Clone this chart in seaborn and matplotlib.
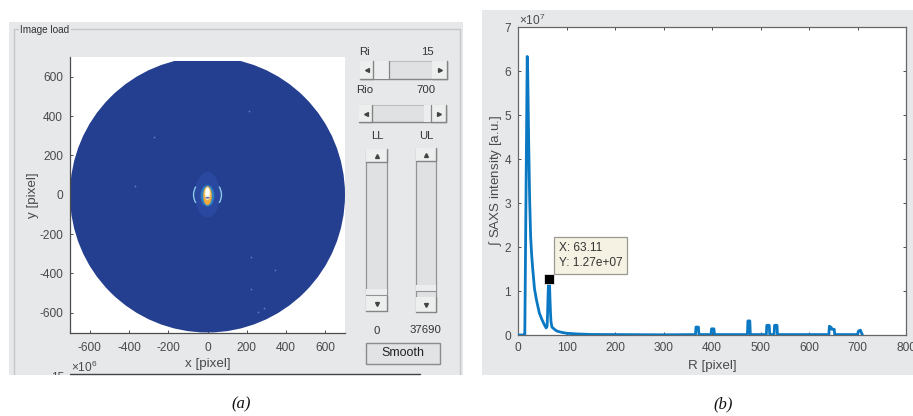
import numpy as np
import pandas as pd
import matplotlib
matplotlib.use("Agg")
import matplotlib.pyplot as plt
from matplotlib.patches import Circle, Ellipse, Arc, Rectangle
import seaborn as sns

# ---------- data ----------
radius_r = [0, 13, 14, 19, 20, 22, 24, 26, 28, 30, 34, 38, 44, 49, 54, 58, 60, 61, 62, 63.11,
            65, 66, 67, 68, 70, 75, 80, 90, 100, 120, 150, 200, 300, 366, 367, 372, 373, 398, 399, 404, 405,
            473, 474, 478, 479, 512, 513, 518, 519, 528, 529, 534, 535, 641, 642, 646, 647, 652, 653, 700,
            702, 706, 708, 710]
intensity = [0, 0, 0, 6.33, 6.0, 4.4, 3.1, 2.25, 1.85, 1.55, 1.05, 0.8, 0.5, 0.36, 0.24, 0.16, 0.2,
             0.5, 0.9, 1.27, 1.15, 0.8, 0.5, 0.3, 0.18, 0.13, 0.09, 0.06, 0.04, 0.025, 0.012, 0.01, 0.005, 0.01, 0.18, 0.18, 0.01, 0.01, 0.14,
             0.14, 0.01, 0.01, 0.32, 0.32, 0.01, 0.01, 0.22, 0.22, 0.01, 0.01, 0.22, 0.22, 0.01, 0.01, 0.2,
             0.17, 0.13, 0.13, 0.01, 0.01, 0.09, 0.11, 0.05, 0.01]
tip_r = [63.11]
tip_i = [1.27]

map_ticks = [-600, -400, -200, 0, 200, 400, 600]
saxs_x_ticks = [0, 100, 200, 300, 400, 500, 600, 700, 800]
saxs_y_ticks = [0, 1, 2, 3, 4, 5, 6, 7]
speck_x = [213, -274, -367, 222, 342, 222, 256, 286]
speck_y = [427, 296, 42, -318, -381, -479, -596, -576]
glow_w = [128, 70, 44, 30, 20]
glow_h = [232, 110, 96, 66, 48]
glow_y = [0, -5, -5, 5, 12]
glow_c = ["#2A48A0", "#2C7FC0", "#F0A840", "#F8E9A8", "#FFFFFF"]

W, H = 913, 416
BLUE = "#243E90"
TXT = "#4A4A4A"
AX = "#4D4D4D"
PANEL = "#E6E8EA"
FONT = "Liberation Sans"

sns.set_theme(style="white")
plt.rcParams["font.family"] = [FONT, "DejaVu Sans"]
plt.rcParams["mathtext.fontset"] = "custom"
plt.rcParams["mathtext.rm"] = FONT
plt.rcParams["mathtext.it"] = FONT + ":italic"
plt.rcParams["axes.unicode_minus"] = False
plt.rcParams["axes.formatter.use_mathtext"] = False

fig = plt.figure(figsize=(W / 100, H / 100), dpi=100, facecolor="white")


def px_axes(l, t, r, b):
    return fig.add_axes([l / W, 1 - b / H, (r - l) / W, (b - t) / H])


# ---------- pixel overlay: panels and widgets ----------
ui = fig.add_axes([0, 0, 1, 1], zorder=0)
ui.set_xlim(0, W)
ui.set_ylim(H, 0)
ui.axis("off")


def rect(x0, y0, x1, y1, fc="none", ec="none", lw=1.0, z=1):
    ui.add_patch(Rectangle((x0, y0), x1 - x0, y1 - y0, fc=fc, ec=ec, lw=lw, zorder=z))


def label(x, y, s, size=8.2, color="#333333", ha="center", z=5):
    ui.text(x, y, s, fontsize=size, color=color, ha=ha, va="center", zorder=z)


def button(x0, y0, x1, y1, marker):
    rect(x0, y0, x1, y1, fc="#EDEEEE", z=3)
    ui.plot([x1, x1, x0], [y0, y1, y1], color="#858585", lw=1.0, zorder=4)
    ui.plot([(x0 + x1) / 2], [(y0 + y1) / 2], marker=marker, ms=2.8, color="#444444", zorder=5)


def h_slider(x0, y0, x1, y1, t0, t1):
    rect(x0, y0, x1, y1, fc="#DFE1E2", z=2)
    ui.plot([x0, x1, x1], [y1, y1, y0], color="#858585", lw=1.0, zorder=3)
    ui.plot([x0, x1], [y0, y0], color="#BDBFC0", lw=0.8, zorder=3)
    button(x0, y0, x0 + 13, y1, "<")
    button(x1 - 15, y0, x1, y1, ">")
    rect(t0, y0, t1, y1, fc="#ECEDEE", z=3)
    ui.plot([t1, t1], [y0, y1], color="#858585", lw=0.9, zorder=4)


def v_slider(x0, y0, x1, y1, t0, t1):
    rect(x0, y0, x1, y1, fc="#DFE1E2", z=2)
    ui.plot([x0, x0], [y0, y1], color="#939393", lw=0.9, zorder=3)
    ui.plot([x1, x1], [y0, y1], color="#939393", lw=0.9, zorder=3)
    button(x0, y0, x1, y0 + 13, "^")
    button(x0, y1 - 15, x1, y1, "v")
    rect(x0, t0, x1, t1, fc="#ECEDEE", z=3)
    ui.plot([x0, x1], [t1, t1], color="#939393", lw=0.8, zorder=4)


rect(9, 22, 463, 375, fc=PANEL, z=0)
rect(482, 10, W, 375, fc=PANEL, z=0)
ui.plot([14, 14], [375, 29], color="#C4C8CB", lw=1.0, zorder=1)
ui.plot([14, 18], [29, 29], color="#C4C8CB", lw=1.0, zorder=1)
ui.plot([71, 460, 460], [29, 29, 375], color="#C4C8CB", lw=1.0, zorder=1)
label(20, 30, "Image load", size=7.2, ha="left")

label(365, 52, "Ri")
label(427, 52, "15")
h_slider(360, 61, 447, 79, 374, 389)
label(365, 90, "Rio")
label(426, 90, "700")
h_slider(359, 105, 446, 122, 424, 431)
label(377, 136, "LL")
label(426, 136, "UL")
v_slider(366, 149, 387, 311, 289, 295)
v_slider(416, 148, 436, 312, 285, 291)
label(377, 331, "0")
label(425, 330, "37690")
rect(366, 343, 440, 364, fc="#E2E3E4", ec="#8C8C8C", lw=1.0, z=3)
label(403, 353, "Smooth", size=9.0, color="#222222")

label(71, 367, r"$\times$10$^{6}$", size=8.6, color=TXT, ha="left")
label(58, 378, "15", size=8.6, color=TXT)
rect(0, 375, 482, 416, fc="white", z=6)
ui.plot([70, 420], [374.4, 374.4], color="#444444", lw=1.0, zorder=7)

for x, s in [(241, "(a)"), (723, "(b)")]:
    ui.text(x, 404, f"({s[1]})", fontsize=12, family="Liberation Serif", style="italic",
            color="#111111", ha="center", va="center", zorder=7)

# ---------- (a) detector map ----------
ax_a = px_axes(70, 57, 345, 332.5)
ax_a.set_facecolor("white")
ax_a.set_xlim(-700, 700)
ax_a.set_ylim(-700, 700)
disc = Circle((0, 0), 700, fc=BLUE, ec="none", zorder=1)
ax_a.add_patch(disc)
disc.set_clip_path(Rectangle((-700, -700), 1400, 1380, transform=ax_a.transData))
for w, h, y, c in zip(glow_w, glow_h, glow_y, glow_c):
    ax_a.add_patch(Ellipse((0, y), w, h, fc=c, ec="none", zorder=2))
for t1, t2 in [(145, 215), (-35, 35)]:
    ax_a.add_patch(Arc((0, 0), 142, 150, theta1=t1, theta2=t2, color="#8CCBE8", lw=1.0, zorder=3))
ax_a.add_patch(Ellipse((0, -15), 22, 9, fc="#5A6FC0", ec="none", zorder=4))
sns.scatterplot(x=speck_x, y=speck_y, ax=ax_a, s=1.6, color="#5F7FBE", linewidth=0, zorder=3)
ax_a.set_xticks(map_ticks)
ax_a.set_yticks(map_ticks)
ax_a.set_xlabel("x [pixel]", fontsize=9.6, color=TXT, labelpad=3)
ax_a.set_ylabel("y [pixel]", fontsize=9.6, color=TXT, labelpad=0)
ax_a.tick_params(direction="in", length=2.2, width=0.7, color=AX, labelcolor=TXT, labelsize=8.6, pad=7,
                 bottom=True, left=True)
ax_a.tick_params(axis="y", pad=5)
sns.despine(ax=ax_a)
for s in ("left", "bottom"):
    ax_a.spines[s].set_color(AX)
    ax_a.spines[s].set_linewidth(0.9)

# ---------- (b) integrated intensity ----------
ax_b = px_axes(518, 27, 906, 335)
ax_b.set_facecolor("white")
frame = pd.DataFrame({"R": radius_r, "I": intensity})
sns.lineplot(data=frame, x="R", y="I", ax=ax_b, estimator=None, sort=False, color="#0A78C2", lw=2.0,
             solid_joinstyle="round", zorder=3)
sns.scatterplot(x=tip_r, y=tip_i, ax=ax_b, marker="s", s=46, color="black", edgecolor="white", linewidth=0.5,
                zorder=5)
ax_b.set_xlim(0, 800)
ax_b.set_ylim(0, 7)
ax_b.set_xticks(saxs_x_ticks)
ax_b.set_yticks(saxs_y_ticks)
ax_b.set_xlabel("R [pixel]", fontsize=9.6, color=TXT, labelpad=4)
ax_b.set_ylabel(r"$\int$ SAXS intensity [a.u.]", fontsize=9.6, color=TXT, labelpad=0)
ax_b.tick_params(direction="in", length=2.4, width=0.7, color=AX, labelcolor=TXT, labelsize=8.6, pad=5,
                 bottom=True, left=True, top=True, right=True)
for lab in ax_b.get_xticklabels():
    lab.set_clip_on(False)
for s in ax_b.spines.values():
    s.set_color("#666666")
    s.set_linewidth(0.9)
    s.set_visible(True)
ax_b.annotate(f"X: {tip_r[0]}\nY: {tip_i[0]:.2f}e+07", xy=(tip_r[0], tip_i[0]), xytext=(10, 10),
              textcoords="offset pixels", fontsize=8.6, color="#333333", va="bottom", ha="left", linespacing=1.35,
              bbox=dict(boxstyle="square,pad=0.42", fc="#F5F2E4", ec="#9A9A90", lw=0.9), zorder=6)
label(519, 20, r"$\times$10$^{7}$", size=8.6, color=TXT, ha="left")

fig.savefig("out.png", dpi=100)
